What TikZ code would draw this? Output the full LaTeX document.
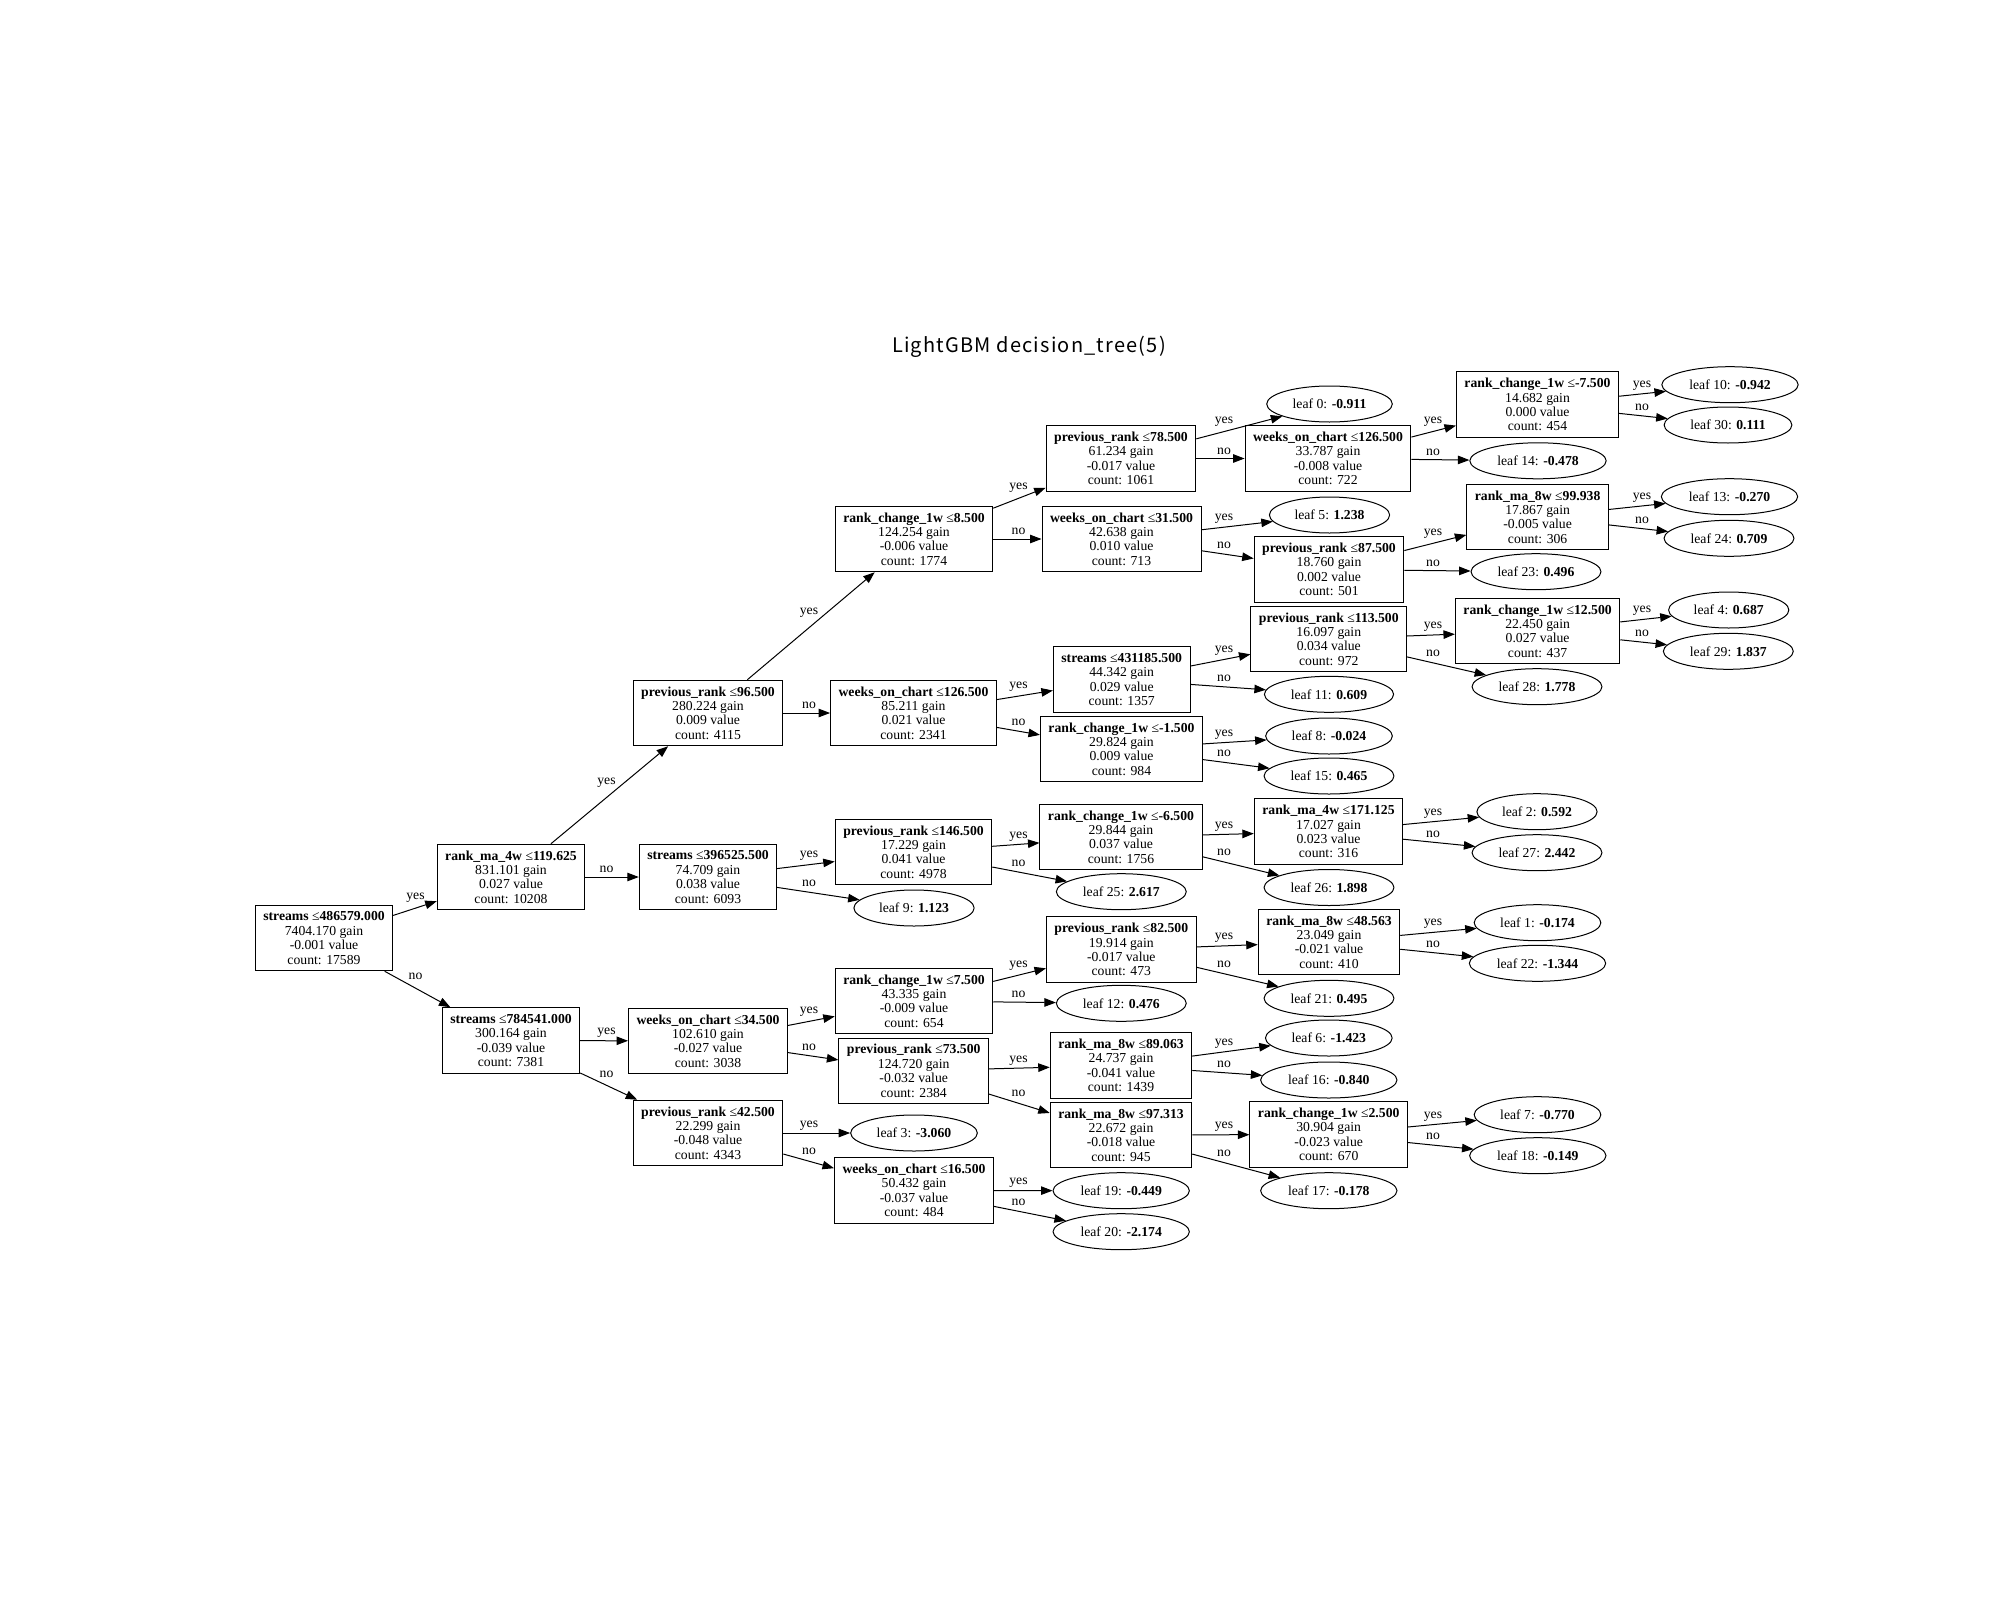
\documentclass[tikz,border=0pt]{standalone}
\usepackage{fontspec}
\usetikzlibrary{arrows.meta,shapes.geometric,calc}
\newfontfamily\treeserif{Liberation Serif}
\newfontfamily\titlesans[LetterSpace=6]{Noto Sans CJK JP}
\newcommand\treefont{\treeserif\fontsize{13.7}{14.4}\selectfont}
% split node: feature, threshold, gain, value, count
\newcommand\splitbox[5]{\textbf{#1} ≤\textbf{#2}\\#3 gain\\#4 value\\count: #5}
% leaf node: index, value
\newcommand\leafval[2]{leaf #1: \textbf{#2}}
% branch from parent #1 to child #2, label #4 centred at x=#3 between the columns
\newcommand\branch[4]{%
  \draw[treeedge] (#1) -- (#2);
  \path let \p1=(#1.center), \p2=(#2.center),
        \n1={(\y2-\y1)/(\x2-\x1)},
        \n2={\y1+(#3-\x1)*\n1},
        \n3={\n2+7.5+8.5*abs(\n1)}
    in node[treelbl] (#1#4) at (#3pt,\n3) {#4};
}
\begin{document}
\begin{tikzpicture}[x=1pt,y=-1pt,
  treebox/.style={draw=black, rectangle, line width=1pt, align=center,
    inner xsep=8pt, inner ysep=2pt, minimum height=65.5pt, font=\treefont},
  treeleaf/.style={draw=black, ellipse, line width=1pt, inner xsep=7.5pt,
    inner ysep=0pt, minimum height=36pt, font=\treefont},
  treeedge/.style={line width=1pt, -{Triangle[length=11.5pt,width=8.5pt]}},
  treelbl/.style={font=\treefont, inner sep=0pt},
  titlestyle/.style={font=\titlesans\fontsize{20}{24}\selectfont, inner sep=0pt}]
\fill[white] (0,0) rectangle (2000,1600);
\useasboundingbox (0,0) rectangle (2000,1600);

\node[titlestyle] (title) at (1029,347) {LightGBM decision\_tree(5)};

% column 0
\node[treebox] (n0) at (324,938) {\splitbox{streams}{486579.000}{7404.170}{-0.001}{17589}};
% column 1
\node[treebox] (n1) at (511,877) {\splitbox{rank\_ma\_4w}{119.625}{831.101}{0.027}{10208}};
\node[treebox] (n2) at (511,1040.5) {\splitbox{streams}{784541.000}{300.164}{-0.039}{7381}};
% column 2
\node[treebox] (n3) at (708,713) {\splitbox{previous\_rank}{96.500}{280.224}{0.009}{4115}};
\node[treebox] (n4) at (708,877) {\splitbox{streams}{396525.500}{74.709}{0.038}{6093}};
\node[treebox] (n5) at (708,1041) {\splitbox{weeks\_on\_chart}{34.500}{102.610}{-0.027}{3038}};
\node[treebox] (n6) at (708,1133) {\splitbox{previous\_rank}{42.500}{22.299}{-0.048}{4343}};
% column 3
\node[treebox] (n7) at (914,539) {\splitbox{rank\_change\_1w}{8.500}{124.254}{-0.006}{1774}};
\node[treebox] (n8) at (913.5,713) {\splitbox{weeks\_on\_chart}{126.500}{85.211}{0.021}{2341}};
\node[treebox] (n9) at (913.5,852) {\splitbox{previous\_rank}{146.500}{17.229}{0.041}{4978}};
\node[treeleaf] (L9) at (914,908) {\leafval{9}{1.123}};
\node[treebox] (n10) at (914,1001) {\splitbox{rank\_change\_1w}{7.500}{43.335}{-0.009}{654}};
\node[treebox] (n11) at (913.7,1070.8) {\splitbox{previous\_rank}{73.500}{124.720}{-0.032}{2384}};
\node[treeleaf] (L3) at (914,1133) {\leafval{3}{-3.060}};
\node[treebox] (n12) at (914,1190.5) {\splitbox{weeks\_on\_chart}{16.500}{50.432}{-0.037}{484}};
% column 4
\node[treebox] (n13) at (1121,458.5) {\splitbox{previous\_rank}{78.500}{61.234}{-0.017}{1061}};
\node[treebox] (n14) at (1121.5,539) {\splitbox{weeks\_on\_chart}{31.500}{42.638}{0.010}{713}};
\node[treebox] (n15) at (1121.7,679.5) {\splitbox{streams}{431185.500}{44.342}{0.029}{1357}};
\node[treebox] (n16) at (1121.5,749) {\splitbox{rank\_change\_1w}{-1.500}{29.824}{0.009}{984}};
\node[treebox] (n17) at (1121,837) {\splitbox{rank\_change\_1w}{-6.500}{29.844}{0.037}{1756}};
\node[treeleaf] (L25) at (1121.3,891.7) {\leafval{25}{2.617}};
\node[treebox] (n18) at (1121.3,949.7) {\splitbox{previous\_rank}{82.500}{19.914}{-0.017}{473}};
\node[treeleaf] (L12) at (1121.3,1003.3) {\leafval{12}{0.476}};
\node[treebox] (n19) at (1121,1065.5) {\splitbox{rank\_ma\_8w}{89.063}{24.737}{-0.041}{1439}};
\node[treebox] (n20) at (1121,1135) {\splitbox{rank\_ma\_8w}{97.313}{22.672}{-0.018}{945}};
\node[treeleaf] (L19) at (1121.2,1190.7) {\leafval{19}{-0.449}};
\node[treeleaf] (L20) at (1121.2,1231.7) {\leafval{20}{-2.174}};
% column 5
\node[treeleaf] (L0) at (1329.5,404) {\leafval{0}{-0.911}};
\node[treebox] (n21) at (1328,458.5) {\splitbox{weeks\_on\_chart}{126.500}{33.787}{-0.008}{722}};
\node[treeleaf] (L5) at (1329.5,515) {\leafval{5}{1.238}};
\node[treebox] (n22) at (1329,569.5) {\splitbox{previous\_rank}{87.500}{18.760}{0.002}{501}};
\node[treebox] (n23) at (1328.8,639) {\splitbox{previous\_rank}{113.500}{16.097}{0.034}{972}};
\node[treeleaf] (L11) at (1329,694.3) {\leafval{11}{0.609}};
\node[treeleaf] (L8) at (1329,736) {\leafval{8}{-0.024}};
\node[treeleaf] (L15) at (1329,776) {\leafval{15}{0.465}};
\node[treebox] (n24) at (1328.5,831.7) {\splitbox{rank\_ma\_4w}{171.125}{17.027}{0.023}{316}};
\node[treeleaf] (L26) at (1329,887.5) {\leafval{26}{1.898}};
\node[treebox] (n25) at (1329,942) {\splitbox{rank\_ma\_8w}{48.563}{23.049}{-0.021}{410}};
\node[treeleaf] (L21) at (1329,998.3) {\leafval{21}{0.495}};
\node[treeleaf] (L6) at (1328.8,1038) {\leafval{6}{-1.423}};
\node[treeleaf] (L16) at (1328.8,1080) {\leafval{16}{-0.840}};
\node[treebox] (n26) at (1328.7,1134.5) {\splitbox{rank\_change\_1w}{2.500}{30.904}{-0.023}{670}};
\node[treeleaf] (L17) at (1328.8,1190.7) {\leafval{17}{-0.178}};
% column 6
\node[treebox] (n27) at (1537.5,404.7) {\splitbox{rank\_change\_1w}{-7.500}{14.682}{0.000}{454}};
\node[treeleaf] (L14) at (1538,460.8) {\leafval{14}{-0.478}};
\node[treebox] (n28) at (1537.6,517) {\splitbox{rank\_ma\_8w}{99.938}{17.867}{-0.005}{306}};
\node[treeleaf] (L23) at (1536,571.7) {\leafval{23}{0.496}};
\node[treebox] (n29) at (1537.6,631) {\splitbox{rank\_change\_1w}{12.500}{22.450}{0.027}{437}};
\node[treeleaf] (L28) at (1537,686.7) {\leafval{28}{1.778}};
\node[treeleaf] (L2) at (1537,811.7) {\leafval{2}{0.592}};
\node[treeleaf] (L27) at (1537,852.7) {\leafval{27}{2.442}};
\node[treeleaf] (L1) at (1537.5,922.7) {\leafval{1}{-0.174}};
\node[treeleaf] (L22) at (1537.5,963.3) {\leafval{22}{-1.344}};
\node[treeleaf] (L7) at (1537.5,1114.7) {\leafval{7}{-0.770}};
\node[treeleaf] (L18) at (1537.8,1155.7) {\leafval{18}{-0.149}};
% column 7
\node[treeleaf] (L10) at (1730,384.7) {\leafval{10}{-0.942}};
\node[treeleaf] (L30) at (1728,425) {\leafval{30}{0.111}};
\node[treeleaf] (L13) at (1729.5,496.7) {\leafval{13}{-0.270}};
\node[treeleaf] (L24) at (1729,538.3) {\leafval{24}{0.709}};
\node[treeleaf] (L4) at (1728.7,610) {\leafval{4}{0.687}};
\node[treeleaf] (L29) at (1728.3,651.3) {\leafval{29}{1.837}};

% branches
\branch{n0}{n1}{415.5}{yes}
\branch{n0}{n2}{415.5}{no}
\branch{n1}{n3}{606.5}{yes}
\branch{n1}{n4}{606.5}{no}
\branch{n2}{n5}{606.5}{yes}
\branch{n2}{n6}{606.5}{no}
\branch{n3}{n7}{809}{yes}
\branch{n3}{n8}{809}{no}
\branch{n4}{n9}{809}{yes}
\branch{n4}{L9}{809}{no}
\branch{n5}{n10}{809}{yes}
\branch{n5}{n11}{809}{no}
\branch{n6}{L3}{809}{yes}
\branch{n6}{n12}{809}{no}
\branch{n7}{n13}{1018.5}{yes}
\branch{n7}{n14}{1018.5}{no}
\branch{n8}{n15}{1018.5}{yes}
\branch{n8}{n16}{1018.5}{no}
\branch{n9}{n17}{1018.5}{yes}
\branch{n9}{L25}{1018.5}{no}
\branch{n10}{n18}{1018.5}{yes}
\branch{n10}{L12}{1018.5}{no}
\branch{n11}{n19}{1018.5}{yes}
\branch{n11}{n20}{1018.5}{no}
\branch{n12}{L19}{1018.5}{yes}
\branch{n12}{L20}{1018.5}{no}
\branch{n13}{L0}{1224}{yes}
\branch{n13}{n21}{1224}{no}
\branch{n14}{L5}{1224}{yes}
\branch{n14}{n22}{1224}{no}
\branch{n15}{n23}{1224}{yes}
\branch{n15}{L11}{1224}{no}
\branch{n16}{L8}{1224}{yes}
\branch{n16}{L15}{1224}{no}
\branch{n17}{n24}{1224}{yes}
\branch{n17}{L26}{1224}{no}
\branch{n18}{n25}{1224}{yes}
\branch{n18}{L21}{1224}{no}
\branch{n19}{L6}{1224}{yes}
\branch{n19}{L16}{1224}{no}
\branch{n20}{n26}{1224}{yes}
\branch{n20}{L17}{1224}{no}
\branch{n21}{n27}{1433}{yes}
\branch{n21}{L14}{1433}{no}
\branch{n22}{n28}{1433}{yes}
\branch{n22}{L23}{1433}{no}
\branch{n23}{n29}{1433}{yes}
\branch{n23}{L28}{1433}{no}
\branch{n24}{L2}{1433}{yes}
\branch{n24}{L27}{1433}{no}
\branch{n25}{L1}{1433}{yes}
\branch{n25}{L22}{1433}{no}
\branch{n26}{L7}{1433}{yes}
\branch{n26}{L18}{1433}{no}
\branch{n27}{L10}{1642}{yes}
\branch{n27}{L30}{1642}{no}
\branch{n28}{L13}{1642}{yes}
\branch{n28}{L24}{1642}{no}
\branch{n29}{L4}{1642}{yes}
\branch{n29}{L29}{1642}{no}
\end{tikzpicture}
\end{document}
